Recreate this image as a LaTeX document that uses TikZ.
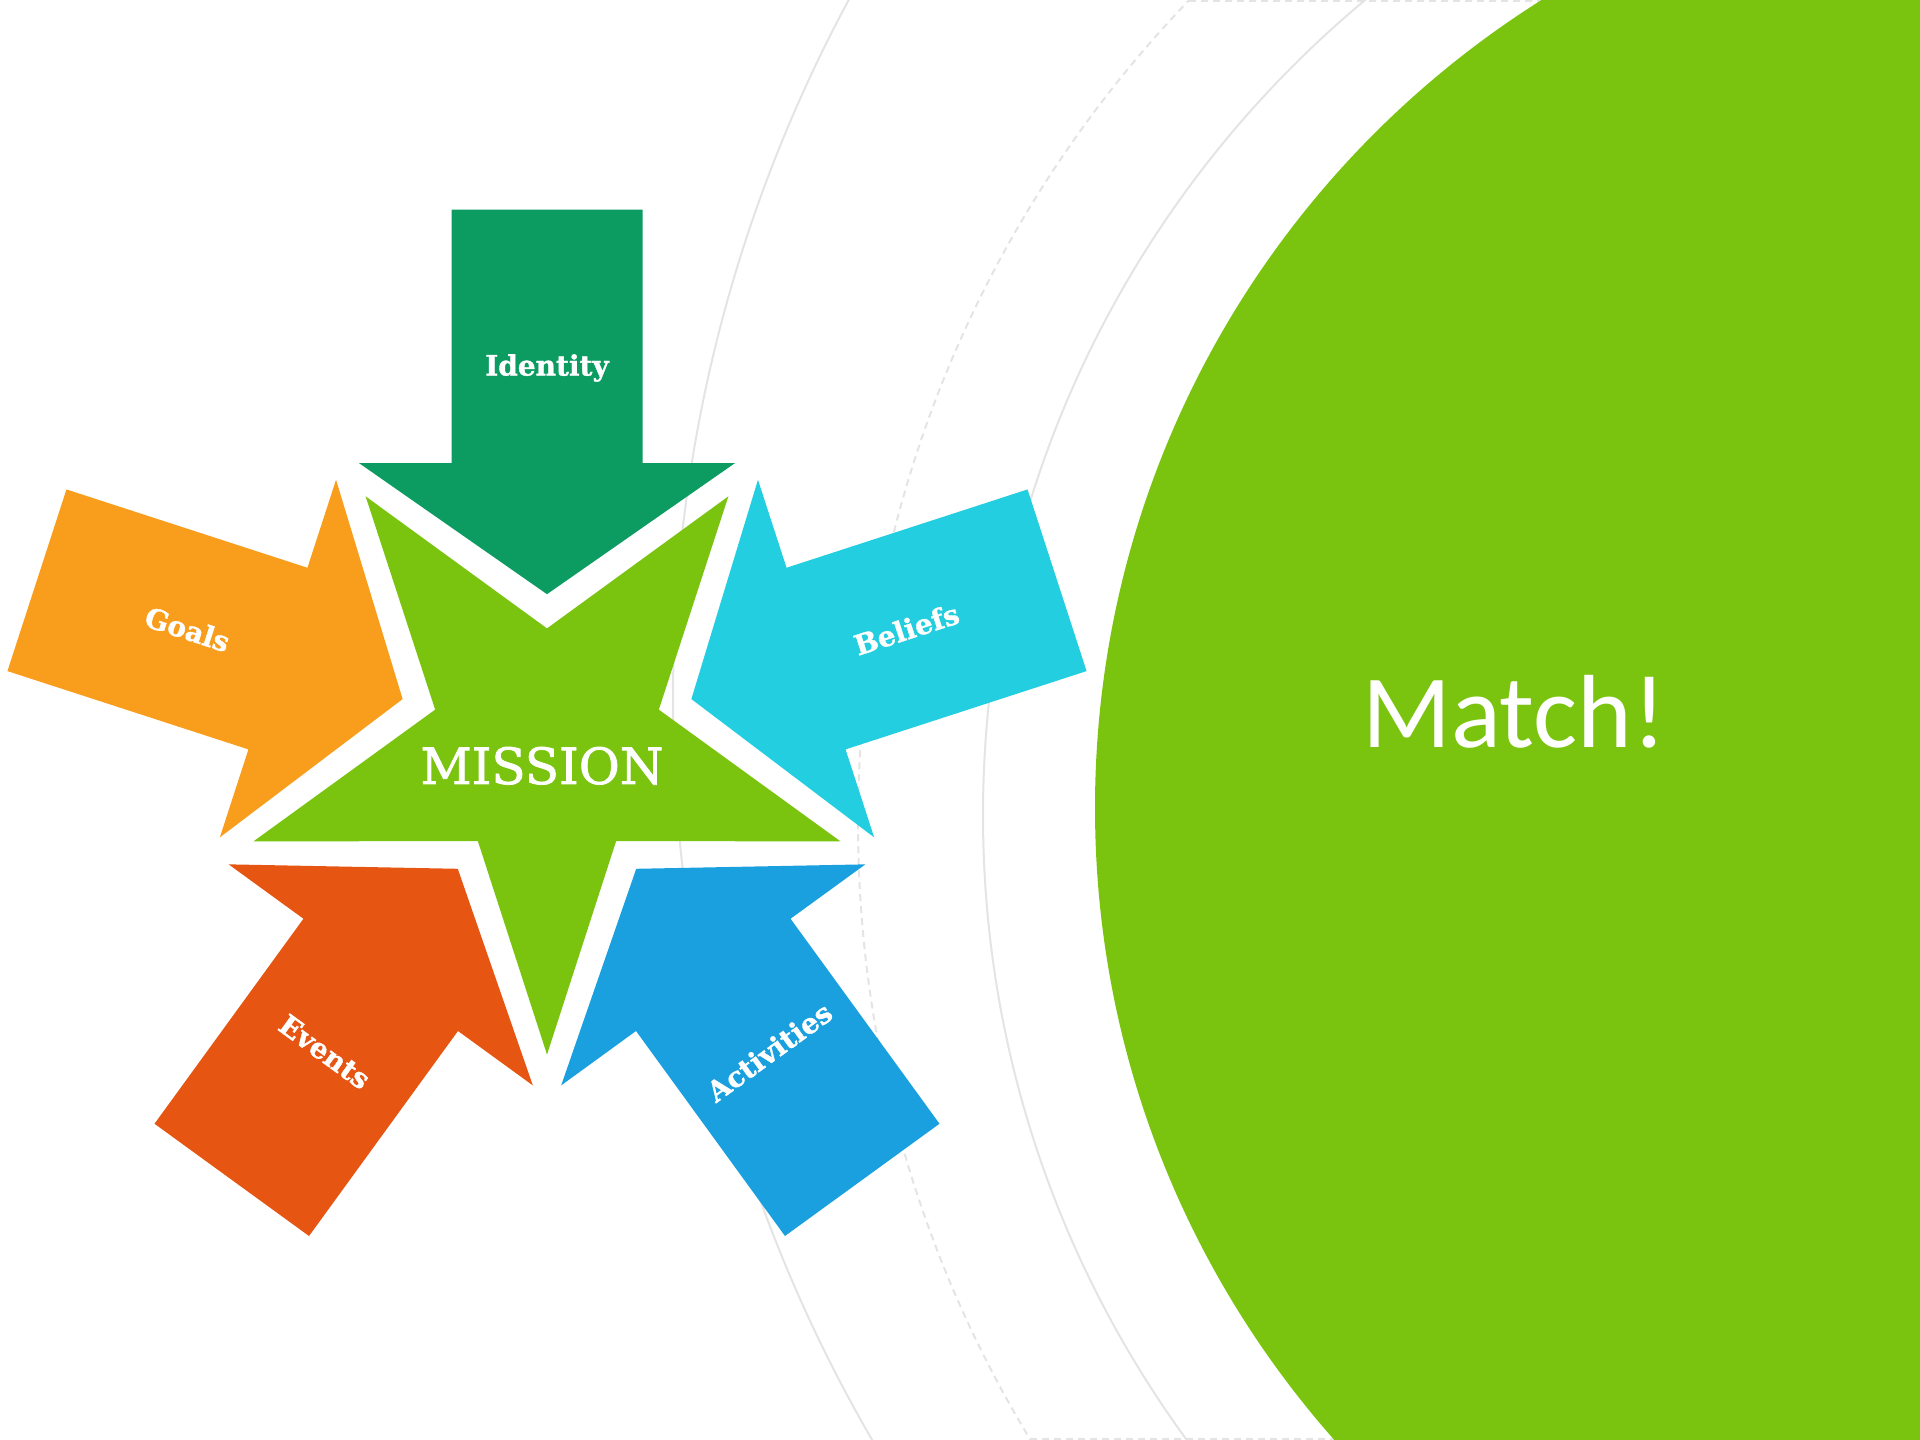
\documentclass[tikz,border=0pt]{standalone}
\usepackage{fontspec}
\newfontfamily\slabfont{DejaVu Serif}
\newfontfamily\heavyslabfont[FakeBold=1.2]{DejaVu Serif Bold}
\newfontfamily\matchfont{Carlito}
\usetikzlibrary{calc}
\definecolor{identitygreen}{HTML}{0C9C62}
\definecolor{goalorange}{HTML}{F99D1C}
\definecolor{beliefcyan}{HTML}{22CEDF}
\definecolor{eventred}{HTML}{E65512}
\definecolor{activityblue}{HTML}{1AA0DF}
\definecolor{missiongreen}{HTML}{7AC40F}
\definecolor{rimgrey}{HTML}{E4E4E4}

\begin{document}
\begin{tikzpicture}[x=1pt,y=1pt,
    rim/.style={draw=rimgrey,line width=2pt},
    lbl/.style={text=white,font=\heavyslabfont\fontsize{28}{30}\selectfont,inner sep=0pt}]
    \useasboundingbox (0,0) rectangle (1920,1440);
    \clip (0,0) rectangle (1920,1440);
    \pgfmathsetmacro{\tip}{151.8}
    \pgfmathsetmacro{\hb}{282.9}
    \pgfmathsetmacro{\hw}{188}
    \pgfmathsetmacro{\sw}{95.5}
    \pgfmathsetmacro{\se}{536.3}
    \pgfmathsetmacro{\ro}{308.6}
    \pgfmathsetmacro{\ri}{117.6}
    \pgfmathsetmacro{\lr}{378}
    \path (547,694) coordinate (C);

    % rings behind everything
    \draw[rim] (2149,741) circle (1476);
    \draw[rim,dash pattern=on 7pt off 5pt] (2046,617) circle (1188) (1189,1439) -- (1920,1439) (1030,1) -- (1920,1);
    \draw[rim] (2043,625) circle (1060);
    \fill[missiongreen] (2049,632) circle (954);

    % five arrows into the star
    \foreach \a/\col in {90/identitygreen,162/goalorange,18/beliefcyan,234/eventred,306/activityblue}
        \fill[\col,shift={(C)},rotate=\a] (\tip,0) -- (\hb,\hw) -- (\hb,\sw) -- (\se,\sw) -- (\se,-\sw) -- (\hb,-\sw) -- (\hb,-\hw) -- cycle;
    \fill[missiongreen,shift={(C)}] (-90:\ro) \foreach \a in {-54,18,90,162,234} {-- (\a:\ri) -- (\a+36:\ro)} -- cycle;

    \foreach \a/\r/\n/\t in {90/0/identity/Identity,162/-18/goals/Goals,18/18/beliefs/Beliefs,234/-36/events/Events,306/36/activities/Activities}
        \node[lbl,rotate=\r] (\n) at ($(C)+(\a:\lr)$) {\t};
    \node[text=white,font=\slabfont\addfontfeature{FakeBold=1.5}\fontsize{50}{55}\selectfont,anchor=base] (mission) at (542,656) {MISSION};
    \node[text=white,font=\matchfont\fontsize{104}{110}\selectfont,anchor=base] (match) at (1514,692) {Match!};
\end{tikzpicture}
\end{document}
